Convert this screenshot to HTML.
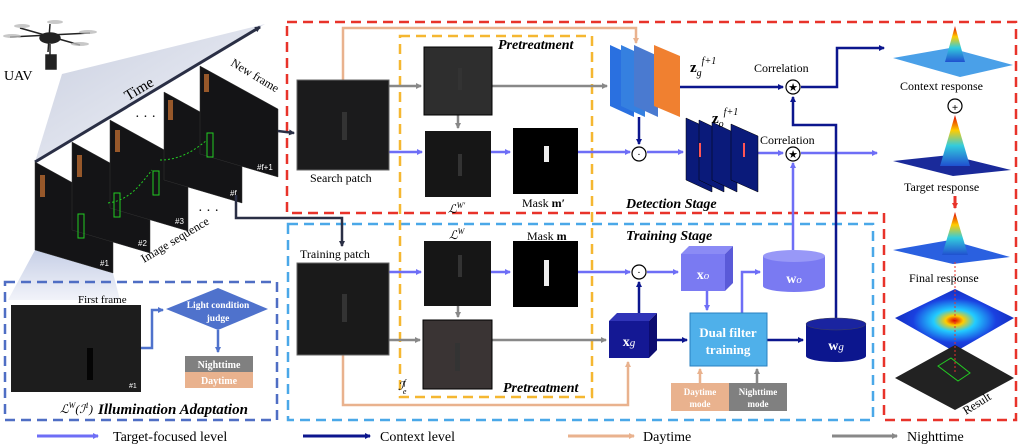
<!DOCTYPE html>
<html><head><meta charset="utf-8"><style>
html,body{margin:0;padding:0;background:#fff;}
svg{display:block;font-family:"Liberation Serif",serif;}
</style></head><body>
<svg width="1026" height="448" viewBox="0 0 1026 448" xmlns="http://www.w3.org/2000/svg">
<defs>
<marker id="mP" markerWidth="6" markerHeight="6" refX="5" refY="3" orient="auto" markerUnits="userSpaceOnUse" viewBox="0 0 6 6"><path d="M0,0L6,3L0,6z" fill="#6e6ef6"/></marker>
<marker id="mN" markerWidth="6" markerHeight="6" refX="5" refY="3" orient="auto" markerUnits="userSpaceOnUse" viewBox="0 0 6 6"><path d="M0,0L6,3L0,6z" fill="#0c168e"/></marker>
<marker id="mG" markerWidth="6" markerHeight="6" refX="5" refY="3" orient="auto" markerUnits="userSpaceOnUse" viewBox="0 0 6 6"><path d="M0,0L6,3L0,6z" fill="#888"/></marker>
<marker id="mO" markerWidth="6" markerHeight="6" refX="5" refY="3" orient="auto" markerUnits="userSpaceOnUse" viewBox="0 0 6 6"><path d="M0,0L6,3L0,6z" fill="#e9b28e"/></marker>
<marker id="mD" markerWidth="6" markerHeight="6" refX="5" refY="3" orient="auto" markerUnits="userSpaceOnUse" viewBox="0 0 6 6"><path d="M0,0L6,3L0,6z" fill="#2a2f45"/></marker>
<marker id="mB" markerWidth="6" markerHeight="6" refX="5" refY="3" orient="auto" markerUnits="userSpaceOnUse" viewBox="0 0 6 6"><path d="M0,0L6,3L0,6z" fill="#4f72cc"/></marker>
<marker id="mR" markerWidth="6" markerHeight="6" refX="5" refY="3" orient="auto" markerUnits="userSpaceOnUse" viewBox="0 0 6 6"><path d="M0,0L6,3L0,6z" fill="#e8332a"/></marker>
<linearGradient id="gT" x1="0" y1="0" x2="1" y2="1"><stop offset="0" stop-color="#c9cfe0"/><stop offset="1" stop-color="#f4f5f9"/></linearGradient>
<linearGradient id="gL" x1="0" y1="0" x2="0" y2="1"><stop offset="0" stop-color="#b8c3e0"/><stop offset="1" stop-color="#eef0f8"/></linearGradient>
<radialGradient id="gH" cx="0.5" cy="0.5" r="0.5"><stop offset="0" stop-color="#d00"/><stop offset="0.15" stop-color="#fc0"/><stop offset="0.35" stop-color="#2cf"/><stop offset="0.7" stop-color="#1a40e0"/><stop offset="1" stop-color="#1530c0"/></radialGradient>
<linearGradient id="gPk" x1="0" y1="0" x2="0" y2="1"><stop offset="0" stop-color="#d00"/><stop offset="0.3" stop-color="#fc0"/><stop offset="0.6" stop-color="#3cd"/><stop offset="1" stop-color="#2050d0"/></linearGradient>
</defs>

<polygon points="35,162 62,74 265,24" fill="url(#gT)"/>
<polygon points="35,250 8,300 120,300 113,273" fill="url(#gL)" opacity="0.8"/>

<g stroke="#222" stroke-width="1.5" fill="#222">
<line x1="10" y1="37" x2="90" y2="33"/><line x1="20" y1="28" x2="80" y2="45"/><line x1="50" y1="24" x2="48" y2="52"/>
<ellipse cx="50" cy="38" rx="10" ry="5"/><rect x="46" y="55" width="10" height="14"/>
<line x1="50" y1="44" x2="50" y2="56"/>
</g>
<g fill="#bbb" opacity="0.8"><ellipse cx="12" cy="36" rx="9" ry="2"/><ellipse cx="88" cy="32" rx="9" ry="2"/><ellipse cx="22" cy="26" rx="8" ry="2"/><ellipse cx="80" cy="44" rx="9" ry="2"/><ellipse cx="55" cy="22" rx="8" ry="2"/></g>
<text x="4" y="80" font-size="14">UAV</text>

<line x1="35" y1="162" x2="260" y2="27" stroke="#2a2f45" stroke-width="3" marker-end="url(#mD)"/>
<text x="0" y="0" font-size="15" transform="translate(128,101) rotate(-31)">Time</text>

<g fill="#141416" stroke="#333" stroke-width="0.5">
<polygon points="35,162 113,205 113,273 35,250"/>
<polygon points="72,142 150,185 150,253 72,230"/>
<polygon points="110,120 188,163 188,231 110,208"/>
<polygon points="164,92 242,135 242,203 164,180"/>
<polygon points="200,66 278,109 278,177 200,154"/>
</g>
<g fill="#b86a30" opacity="0.8"><rect x="40" y="175" width="5" height="22"/><rect x="77" y="155" width="5" height="22"/><rect x="115" y="130" width="5" height="22"/><rect x="168" y="100" width="5" height="20"/><rect x="204" y="74" width="5" height="18"/></g>
<g fill="none" stroke="#2c2" stroke-width="1"><rect x="78" y="214" width="6" height="24"/><rect x="114" y="193" width="6" height="24"/><rect x="153" y="171" width="6" height="24"/><rect x="207" y="133" width="6" height="24"/></g>
<path d="M108,203 C130,200 140,185 152,170 M160,160 C180,160 195,150 207,140" stroke="#2c2" stroke-width="1" fill="none" stroke-dasharray="2,2"/>
<g fill="#fff" font-size="8" font-family="Liberation Sans,sans-serif"><text x="100" y="266">#1</text><text x="138" y="246">#2</text><text x="175" y="224">#3</text><text x="230" y="196">#f</text><text x="257" y="170">#f+1</text></g>
<text font-size="12" transform="translate(230,65) rotate(31)">New frame</text>
<text x="135" y="121" font-size="14">· · ·</text>
<text x="198" y="215" font-size="14">· · ·</text>
<text font-size="12" transform="translate(144,263) rotate(-31)">Image sequence</text>

<path d="M287,22 H1016 V420 H884 V213 H287 Z" fill="none" stroke="#e8332a" stroke-width="2.5" stroke-dasharray="10,6"/>
<rect x="288" y="224" width="585" height="196" fill="none" stroke="#4aa8e8" stroke-width="2.5" stroke-dasharray="10,6"/>
<rect x="400" y="36" width="192" height="361" fill="none" stroke="#f5b731" stroke-width="2.5" stroke-dasharray="10,6"/>
<rect x="5" y="282" width="272" height="138" fill="none" stroke="#4f6ec4" stroke-width="2.5" stroke-dasharray="10,6"/>

<g fill="none" stroke-width="2.5">
<path d="M236,195 V218 H342 V246" stroke="#2a2f45" marker-end="url(#mD)"/>
<path d="M278,131 L294,133" stroke="#2a2f45" marker-end="url(#mD)"/>
<path d="M343,80 V28 H636 V43" stroke="#e9b28e" marker-end="url(#mO)"/>
<path d="M343,355 V405 H628 V362" stroke="#e9b28e" marker-end="url(#mO)"/>
<path d="M389,86 H421" stroke="#888" marker-end="url(#mG)"/>
<path d="M492,86 H607" stroke="#888" marker-end="url(#mG)"/>
<path d="M458,115 V128" stroke="#888" marker-end="url(#mG)"/>
<path d="M389,340 H420" stroke="#888" marker-end="url(#mG)"/>
<path d="M458,306 V317" stroke="#888" marker-end="url(#mG)"/>
<path d="M492,340 H606" stroke="#888" marker-end="url(#mG)"/>
<path d="M389,152 H422" stroke="#6e6ef6" marker-end="url(#mP)"/>
<path d="M491,152 H510" stroke="#6e6ef6" marker-end="url(#mP)"/>
<path d="M578,152 H630" stroke="#6e6ef6" marker-end="url(#mP)"/>
<path d="M647,152 H683" stroke="#6e6ef6" marker-end="url(#mP)"/>
<path d="M758,153 H783" stroke="#6e6ef6" marker-end="url(#mP)"/>
<path d="M801,153 H877" stroke="#6e6ef6" marker-end="url(#mP)"/>
<path d="M389,272 H421" stroke="#6e6ef6" marker-end="url(#mP)"/>
<path d="M491,272 H510" stroke="#6e6ef6" marker-end="url(#mP)"/>
<path d="M578,272 H630" stroke="#6e6ef6" marker-end="url(#mP)"/>
<path d="M647,272 H678" stroke="#6e6ef6" marker-end="url(#mP)"/>
<path d="M707,291 V310" stroke="#6e6ef6" marker-end="url(#mP)"/>
<path d="M742,313 V272 H760" stroke="#6e6ef6" marker-end="url(#mP)"/>
<path d="M793,250 V163" stroke="#6e6ef6" marker-end="url(#mP)"/>
<path d="M639,117 V144" stroke="#0c168e" marker-end="url(#mN)"/>
<path d="M680,87 H783" stroke="#0c168e" marker-end="url(#mN)"/>
<path d="M801,87 H837 V48 H884" stroke="#0c168e" marker-end="url(#mN)"/>
<path d="M836,318 V125 H793 V97" stroke="#0c168e" marker-end="url(#mN)"/>
<path d="M639,313 V282" stroke="#0c168e" marker-end="url(#mN)"/>
<path d="M657,340 H687" stroke="#0c168e" marker-end="url(#mN)"/>
<path d="M767,340 H803" stroke="#0c168e" marker-end="url(#mN)"/>
<path d="M700,383 V369" stroke="#e9b28e" marker-end="url(#mO)"/>
<path d="M757,383 V369" stroke="#888" marker-end="url(#mG)"/>
<path d="M955,196 V208" stroke="#e8332a" stroke-width="3" marker-end="url(#mR)"/>
</g>

<rect x="297" y="80" width="92" height="90" fill="#1b1b1c" stroke="#666"/>
<rect x="424" y="47" width="68" height="68" fill="#2e2e2e" stroke="#000"/>
<rect x="425" y="131" width="66" height="66" fill="#161616"/>
<rect x="513" y="128" width="65" height="66" fill="#000"/>
<rect x="297" y="263" width="92" height="92" fill="#1a1a1a" stroke="#666"/>
<rect x="424" y="241" width="67" height="65" fill="#161616"/>
<rect x="423" y="320" width="69" height="69" fill="#3a3434" stroke="#000"/>
<rect x="513" y="241" width="65" height="66" fill="#000"/>
<g fill="#eee"><rect x="544" y="146" width="5" height="16"/><rect x="544" y="260" width="5" height="26"/></g>
<g fill="#333"><rect x="342" y="112" width="5" height="28"/><rect x="458" y="68" width="4" height="22"/><rect x="458" y="154" width="4" height="22"/><rect x="342" y="294" width="5" height="28"/><rect x="458" y="255" width="4" height="22"/><rect x="455" y="343" width="5" height="28"/></g>
<rect x="11" y="305" width="130" height="87" fill="#1d1d1d"/>
<rect x="87" y="348" width="6" height="32" fill="#050505"/>
<g fill="#fff" font-size="7" font-family="Liberation Sans,sans-serif"><text x="129" y="388">#1</text></g>

<polygon points="610,45 634,56 634,117 610,106" fill="#2a70e0"/>
<polygon points="621,45 645,56 645,117 621,106" fill="#3580e0"/>
<polygon points="634,45 658,56 658,117 634,106" fill="#4a7ad0"/>
<polygon points="654,45 680,56 680,117 654,106" fill="#f08030"/>
<g fill="#0a1a7a" stroke="#000" stroke-width="0.5">
<polygon points="686,118 712,130 712,192 686,180"/>
<polygon points="699,120 724,132 724,192 699,180"/>
<polygon points="712,122 737,134 737,192 712,180"/>
<polygon points="731,124 758,136 758,192 731,180"/>
</g>
<g fill="#f55"><rect x="699" y="143" width="2" height="14"/><rect x="743" y="143" width="2" height="14"/></g>

<g fill="#fff" stroke="#000" stroke-width="1.2">
<circle cx="639" cy="154" r="7"/><circle cx="639" cy="272" r="7"/>
<circle cx="793" cy="87" r="7"/><circle cx="793" cy="154" r="7"/><circle cx="955" cy="106" r="7"/>
</g>
<g font-size="11" text-anchor="middle"><text x="639" y="158">·</text><text x="639" y="276">·</text><text x="793" y="91">★</text><text x="793" y="158">★</text><text x="955" y="111" font-weight="bold">+</text></g>

<polygon points="681,254 689,246 733,246 725,254" fill="#8b8bf5"/>
<polygon points="725,254 733,246 733,283 725,291" fill="#5a5ad8"/>
<rect x="681" y="254" width="44" height="37" fill="#7a7af2"/>
<text x="703" y="279" font-size="14" fill="#fff" text-anchor="middle" font-weight="bold">x<tspan font-style="italic" font-weight="normal" font-size="11">o</tspan></text>
<polygon points="609,321 617,313 657,313 649,321" fill="#3034b8"/>
<polygon points="649,321 657,313 657,350 649,358" fill="#0c0c70"/>
<rect x="609" y="321" width="40" height="37" fill="#141894"/>
<text x="629" y="346" font-size="14" fill="#fff" text-anchor="middle" font-weight="bold">x<tspan font-style="italic" font-weight="normal" font-size="11">g</tspan></text>
<path d="M763,256 V286 A31,6 0 0 0 825,286 V256" fill="#7a7af2"/>
<ellipse cx="794" cy="256" rx="31" ry="6" fill="#9898f7"/>
<text x="794" y="283" font-size="14" fill="#fff" text-anchor="middle" font-weight="bold">w<tspan font-style="italic" font-weight="normal" font-size="11">o</tspan></text>
<path d="M806,324 V356 A30,6 0 0 0 866,356 V324" fill="#0c168e"/>
<ellipse cx="836" cy="324" rx="30" ry="6" fill="#1a24a0" stroke="#445" stroke-width="0.5"/>
<text x="836" y="350" font-size="14" fill="#fff" text-anchor="middle" font-weight="bold">w<tspan font-style="italic" font-weight="normal" font-size="11">g</tspan></text>
<rect x="690" y="313" width="77" height="53" fill="#4fb0ea" stroke="#2a80c0"/>
<text x="728" y="337" font-size="13" fill="#fff" text-anchor="middle" font-weight="bold">Dual filter</text>
<text x="728" y="354" font-size="13" fill="#fff" text-anchor="middle" font-weight="bold">training</text>
<rect x="671" y="383" width="58" height="28" fill="#e9b28e"/>
<rect x="729" y="383" width="58" height="28" fill="#808080"/>
<g font-size="9" fill="#fff" text-anchor="middle" font-weight="bold"><text x="700" y="395">Daytime</text><text x="700" y="407">mode</text><text x="758" y="395">Nighttime</text><text x="758" y="407">mode</text></g>

<path d="M141,348 H152 V310 H163" fill="none" stroke="#4f72cc" stroke-width="2.5" marker-end="url(#mB)"/>
<polygon points="218,288 268,309 218,330 166,309" fill="#4f72cc"/>
<text x="218" y="308" font-size="9.5" fill="#fff" text-anchor="middle" font-weight="bold">Light condition</text>
<text x="218" y="321" font-size="9.5" fill="#fff" text-anchor="middle" font-weight="bold">judge</text>
<path d="M218,330 V352" stroke="#4f72cc" stroke-width="2.5" marker-end="url(#mB)"/>
<rect x="185" y="356" width="68" height="16" fill="#808080"/>
<rect x="185" y="372" width="68" height="16" fill="#e9b28e"/>
<text x="219" y="368" font-size="10" fill="#fff" text-anchor="middle" font-weight="bold">Nighttime</text>
<text x="219" y="384" font-size="10" fill="#fff" text-anchor="middle" font-weight="bold">Daytime</text>

<polygon points="893,58 950,48 1013,65 960,77" fill="#4aa0e8"/>
<path d="M945,62 L955,26 L965,62 Z" fill="url(#gPk)"/>
<polygon points="893,161 950,155 1011,170 953,176" fill="#1a2a9a"/>
<path d="M940,166 L955,115 L970,166 Z" fill="url(#gPk)"/>
<polygon points="893,250 950,240 1010,257 953,264" fill="#2a60e0"/>
<path d="M942,255 L955,212 L968,255 Z" fill="url(#gPk)"/>
<polygon points="895,318 955,289 1014,318 955,352" fill="url(#gH)"/>
<polygon points="895,378 955,345 1014,378 955,410" fill="#222"/>
<polygon points="938,366 951,358 970,373 958,381" fill="none" stroke="#2c2"/>
<line x1="955" y1="262" x2="955" y2="372" stroke="#e8332a" stroke-dasharray="2,2"/>

<g font-size="12">
<text x="310" y="182">Search patch</text>
<text x="300" y="258">Training patch</text>
<text x="522" y="207">Mask <tspan font-weight="bold">m′</tspan></text>
<text x="527" y="240">Mask <tspan font-weight="bold">m</tspan></text>
<text x="448" y="213" font-style="italic">ℒ<tspan font-size="8" dy="-5">W′</tspan></text>
<text x="449" y="239" font-style="italic">ℒ<tspan font-size="8" dy="-5">W</tspan></text>
<text x="398" y="390" font-style="italic">ℐ<tspan font-size="8" dy="-5">f</tspan><tspan font-size="8" dx="-3" dy="9">e</tspan></text>
<text x="60" y="413" font-style="italic">ℒ<tspan font-size="8" dy="-5">W</tspan><tspan dy="5">(ℐ</tspan><tspan font-size="8" dy="-5">1</tspan><tspan dy="5">)</tspan></text>
<text x="78" y="303" font-size="11">First frame</text>
<text x="754" y="72">Correlation</text>
<text x="760" y="144">Correlation</text>
<text x="900" y="90">Context response</text>
<text x="904" y="191">Target response</text>
<text x="909" y="282">Final response</text>
<text font-size="12" transform="translate(966,415) rotate(-32)">Result</text>
<text x="690" y="72" font-size="15" font-weight="bold">z<tspan font-style="italic" font-weight="normal" font-size="10" dy="4">g</tspan><tspan font-style="italic" font-weight="normal" font-size="10" dy="-12">f+1</tspan></text>
<text x="712" y="123" font-size="15" font-weight="bold">z<tspan font-style="italic" font-weight="normal" font-size="10" dy="4">o</tspan><tspan font-style="italic" font-weight="normal" font-size="10" dy="-12">f+1</tspan></text>
</g>
<g font-size="14" font-weight="bold" font-style="italic">
<text x="498" y="49">Pretreatment</text>
<text x="503" y="392">Pretreatment</text>
<text x="626" y="208">Detection Stage</text>
<text x="626" y="240">Training Stage</text>
<text x="98" y="414" font-size="15">Illumination Adaptation</text>
</g>

<g stroke-width="3" fill="none">
<path d="M37,436 H98" stroke="#6e6ef6" marker-end="url(#mP)"/>
<path d="M303,436 H370" stroke="#0c168e" marker-end="url(#mN)"/>
<path d="M568,436 H634" stroke="#e9b28e" marker-end="url(#mO)"/>
<path d="M832,436 H897" stroke="#888" marker-end="url(#mG)"/>
</g>
<g font-size="14"><text x="113" y="441">Target-focused level</text><text x="380" y="441">Context level</text><text x="643" y="441">Daytime</text><text x="907" y="441">Nighttime</text></g>
</svg>
</body></html>
